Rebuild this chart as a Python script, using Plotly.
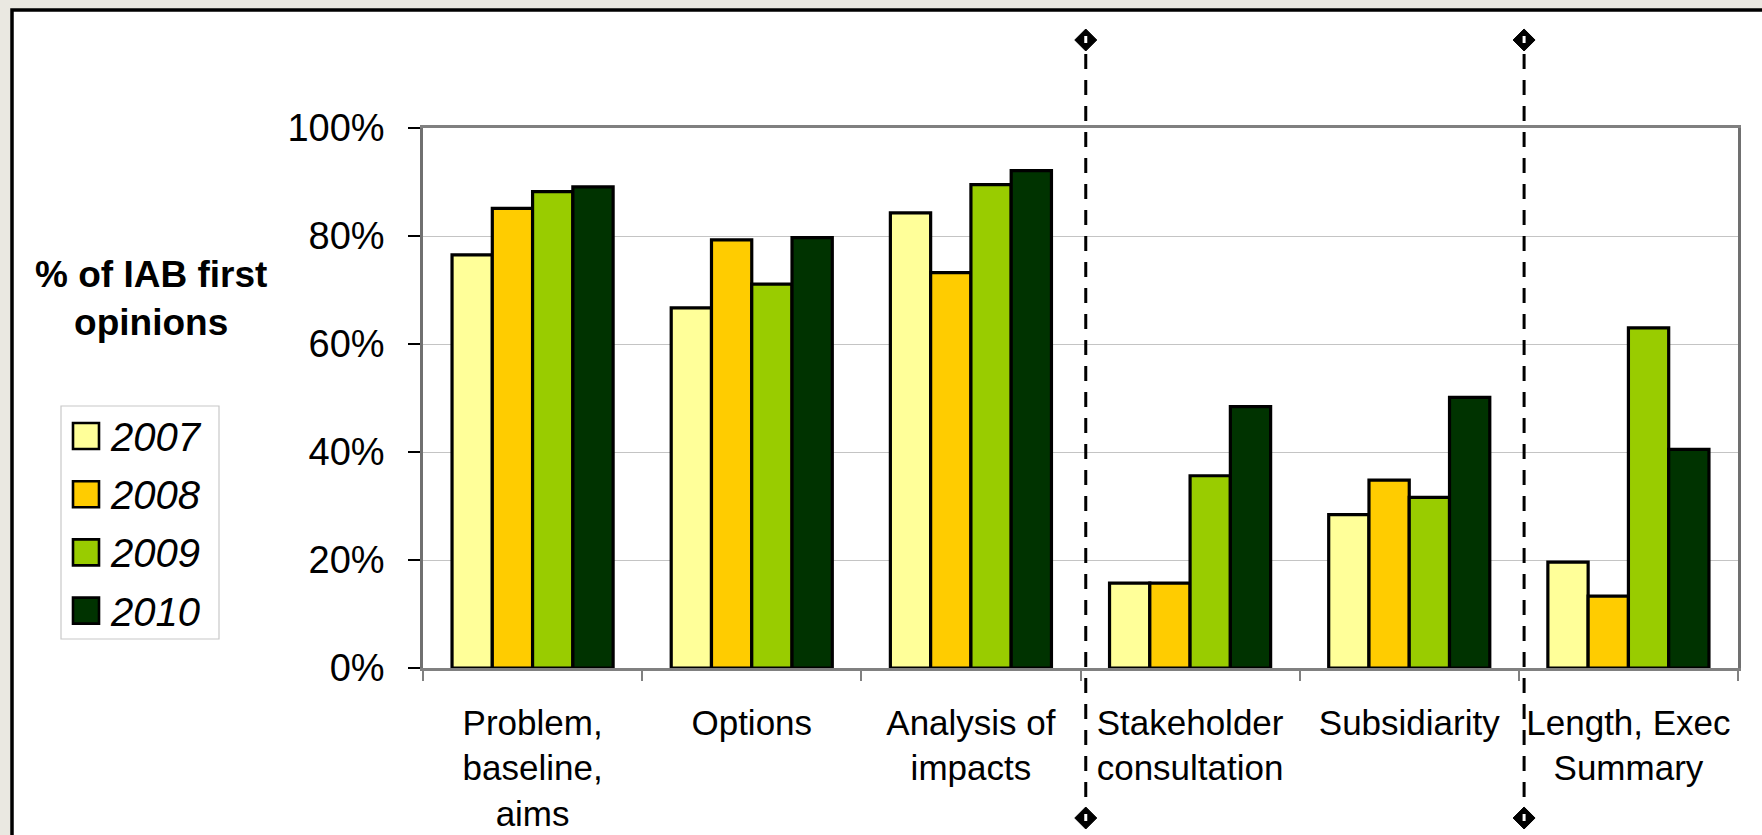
import plotly.graph_objects as go

# ---- data -------------------------------------------------------------
categories = [
    "Problem,<br>baseline,<br>aims",
    "Options",
    "Analysis of<br>impacts",
    "Stakeholder<br>consultation",
    "Subsidiarity",
    "Length, Exec<br>Summary",
]
years = ["2007", "2008", "2009", "2010"]
values_2007 = [76.5, 66.7, 84.3, 15.7, 28.4, 19.6]
values_2008 = [85.1, 79.3, 73.2, 15.7, 34.8, 13.3]
values_2009 = [88.2, 71.1, 89.5, 35.6, 31.6, 63.0]
values_2010 = [89.1, 79.7, 92.1, 48.4, 50.1, 40.5]
series = [values_2007, values_2008, values_2009, values_2010]
y_ticks = [0, 20, 40, 60, 80, 100]

colors = ["#FFFF99", "#FFCC00", "#99CC00", "#003300"]

# ---- geometry ---------------------------------------------------------
W, H = 1762, 835
ML, MR, MT, MB = 423, 24, 128, 167
PW, PH = W - ML - MR, H - MT - MB


def px_x(px):
    return (px - ML) / PW


def px_y(py):
    return (H - MB - py) / PH


fig = go.Figure()
for name, vals, col in zip(years, series, colors):
    fig.add_trace(go.Bar(
        x=categories, y=vals, name=name,
        marker=dict(color=col, line=dict(color="#000000", width=3.2)),
        showlegend=False,
    ))

shapes = []
annotations = []

# slide frame: white panel with a heavy black border
shapes.append(dict(
    type="rect", xref="paper", yref="paper", layer="below",
    x0=px_x(12), x1=px_x(1850), y0=px_y(10), y1=px_y(950),
    fillcolor="#FFFFFF", line=dict(color="#000000", width=3.5),
))

# dashed separators between groups of criteria, with diamond ends
n = len(categories)
for boundary in (3, 5):
    xp = boundary / n + 0.004
    xc = ML + xp * PW
    shapes.append(dict(
        type="line", xref="paper", yref="paper", layer="above",
        x0=xp, x1=xp, y0=px_y(54), y1=px_y(804),
        line=dict(color="#000000", width=3, dash="15px,11px"),
    ))
    for yc in (40, 818):
        hw, hh = 11, 11
        path = (f"M {px_x(xc)},{px_y(yc - hh)} L {px_x(xc + hw)},{px_y(yc)} "
                f"L {px_x(xc)},{px_y(yc + hh)} L {px_x(xc - hw)},{px_y(yc)} Z")
        shapes.append(dict(type="path", xref="paper", yref="paper", path=path,
                           fillcolor="#000000", line=dict(color="#000000", width=1)))
        shapes.append(dict(type="rect", xref="paper", yref="paper",
                           x0=px_x(xc - 1.5), x1=px_x(xc + 1.5),
                           y0=px_y(yc - 4), y1=px_y(yc + 3),
                           fillcolor="#FFFFFF", line=dict(width=0)))

# legend box
shapes.append(dict(
    type="rect", xref="paper", yref="paper",
    x0=px_x(61), x1=px_x(219), y0=px_y(406), y1=px_y(639),
    fillcolor="#FFFFFF", line=dict(color="#C8C8C8", width=1.2),
))
for i, (name, col) in enumerate(zip(years, colors)):
    yc = 436 + i * 58.2
    shapes.append(dict(
        type="rect", xref="paper", yref="paper",
        x0=px_x(73), x1=px_x(99), y0=px_y(yc - 13), y1=px_y(yc + 13),
        fillcolor=col, line=dict(color="#000000", width=2.6),
    ))
    annotations.append(dict(
        xref="paper", yref="paper", x=px_x(108), y=px_y(yc + 1),
        xanchor="left", yanchor="middle", showarrow=False, text=name,
        font=dict(family="Liberation Sans, Arial", size=40, style="italic",
                  color="#000000"),
    ))

# y-axis title
annotations.append(dict(
    xref="paper", yref="paper", x=px_x(151), y=px_y(298),
    xanchor="center", yanchor="middle", showarrow=False,
    text="<b>% of IAB first<br>opinions</b>",
    font=dict(family="Liberation Sans, Arial", size=37, color="#000000"),
))

fig.update_layout(
    width=W, height=H,
    margin=dict(l=ML, r=MR, t=MT, b=MB, pad=0, autoexpand=False),
    paper_bgcolor="#EAE8E1",
    plot_bgcolor="#FFFFFF",
    barmode="group", bargap=0.265, bargroupgap=0,
    shapes=shapes, annotations=annotations,
    font=dict(family="Liberation Sans, Arial", color="#000000"),
)
fig.update_xaxes(
    type="category", tickson="boundaries", automargin=False,
    ticks="outside", ticklen=10, tickwidth=1.5, tickcolor="#808080",
    showline=True, linecolor="#808080", linewidth=2.5, mirror=True,
    showgrid=False, ticklabelstandoff=22,
    tickfont=dict(size=35, color="#000000"),
)
fig.update_yaxes(
    range=[0, 100], tickvals=y_ticks, ticktext=[f"{v}%" for v in y_ticks],
    automargin=False,
    ticks="outside", ticklen=12, tickwidth=1.5, tickcolor="#000000",
    showline=True, linecolor="#707070", linewidth=2.5, mirror=True,
    showgrid=True, gridcolor="#C4C4C4", gridwidth=1,
    zeroline=False, ticklabelstandoff=16,
    tickfont=dict(size=38, color="#000000"),
)

fig.write_html("out.html")
